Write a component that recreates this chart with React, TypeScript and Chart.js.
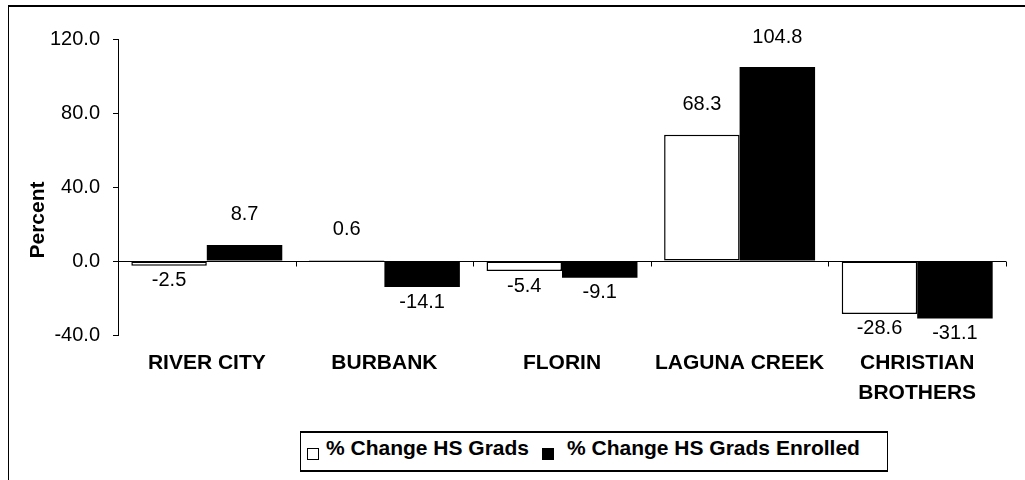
import React, { useEffect, useRef } from "react";
import { Chart, registerables } from "chart.js";

Chart.register(...registerables);

// ---- data ----
const categories: string[][] = [
  ["RIVER CITY"],
  ["BURBANK"],
  ["FLORIN"],
  ["LAGUNA CREEK"],
  ["CHRISTIAN", "BROTHERS"],
];
const hsGrads = [-2.5, 0.6, -5.4, 68.3, -28.6];
const hsGradsEnrolled = [8.7, -14.1, -9.1, 104.8, -31.1];
const seriesNames = ["% Change HS Grads", "% Change HS Grads Enrolled"];
const yMin = -40;
const yMax = 120;
const yStep = 40;
const yTitle = "Percent";

const FONT = "'Liberation Sans', Arial, sans-serif";

const decorations = {
  id: "decorations",
  beforeDatasetsDraw(chart: any) {
    const { ctx, chartArea, scales } = chart;
    const y = scales.y;
    const y0 = Math.round(y.getPixelForValue(0)) + 0.5;
    ctx.save();
    ctx.strokeStyle = "#000";
    ctx.lineWidth = 1;
    ctx.beginPath();
    ctx.moveTo(chartArea.left, y0);
    ctx.lineTo(chartArea.right, y0);
    const n = categories.length;
    const w = (chartArea.right - chartArea.left) / n;
    for (let i = 1; i <= n; i++) {
      const bx = Math.round(chartArea.left + i * w) + 0.5;
      ctx.moveTo(bx, y0);
      ctx.lineTo(bx, y0 + 5);
    }
    ctx.stroke();
    ctx.restore();
  },
  afterDatasetsDraw(chart: any) {
    const { ctx } = chart;
    ctx.save();
    ctx.fillStyle = "#000";
    ctx.font = `20px ${FONT}`;
    ctx.textAlign = "center";
    ctx.textBaseline = "middle";
    chart.data.datasets.forEach((ds: any, di: number) => {
      const meta = chart.getDatasetMeta(di);
      meta.data.forEach((bar: any, i: number) => {
        const v = ds.data[i] as number;
        const ty = v >= 0 ? bar.y - 30 : bar.y + 15;
        ctx.fillText(v.toFixed(1), bar.x, ty);
      });
    });
    // axis title
    ctx.font = `bold 21px ${FONT}`;
    ctx.translate(38, 220);
    ctx.rotate(-Math.PI / 2);
    ctx.fillText(yTitle, 0, 0);
    ctx.restore();
  },
};

export default function App() {
  const ref = useRef<HTMLCanvasElement | null>(null);

  useEffect(() => {
    if (!ref.current) return;
    const chart = new Chart(ref.current, {
      type: "bar",
      data: {
        labels: categories,
        datasets: [
          {
            label: seriesNames[0],
            data: hsGrads,
            backgroundColor: "#ffffff",
            borderColor: "#000000",
            borderWidth: 1.5,
            borderSkipped: false,
          },
          {
            label: seriesNames[1],
            data: hsGradsEnrolled,
            backgroundColor: "#000000",
            borderColor: "#000000",
            borderWidth: 0,
          },
        ],
      },
      options: {
        animation: false,
        responsive: true,
        maintainAspectRatio: false,
        layout: { padding: { left: 0, right: 19, top: 39, bottom: 0 } },
        plugins: {
          legend: { display: false },
          tooltip: { enabled: false },
          title: { display: false },
        },
        datasets: {
          bar: { categoryPercentage: 0.85, barPercentage: 1 },
        },
        scales: {
          x: {
            grid: { display: false, drawTicks: false },
            border: { display: false },
            ticks: {
              color: "#000",
              font: { family: FONT, size: 21, weight: "bold", lineHeight: 1.45 },
              padding: 13,
              maxRotation: 0,
              autoSkip: false,
            },
            afterFit(scale: any) {
              scale.height = 145;
            },
          },
          y: {
            min: yMin,
            max: yMax,
            ticks: {
              stepSize: yStep,
              color: "#000",
              font: { family: FONT, size: 20 },
              padding: 13,
              callback: (v: any) => Number(v).toFixed(1),
            },
            grid: {
              drawOnChartArea: false,
              drawTicks: true,
              tickLength: 5,
              color: "#000",
            },
            border: { display: true, color: "#000", width: 1 },
            afterFit(scale: any) {
              scale.width = 118;
            },
          },
        },
      },
      plugins: [decorations],
    });
    return () => chart.destroy();
  }, []);

  const sq = (left: number, fill: string): React.CSSProperties => ({
    position: "absolute",
    left,
    top: 15,
    width: 12,
    height: 12,
    boxSizing: "border-box",
    background: fill,
    border: "1px solid #000",
  });
  const txt = (left: number): React.CSSProperties => ({
    position: "absolute",
    left,
    top: 3,
    font: `bold 21px ${FONT}`,
    color: "#000",
    whiteSpace: "nowrap",
    lineHeight: "24px",
  });

  return (
    <div
      style={{
        position: "fixed",
        left: 0,
        top: 0,
        width: 1025,
        height: 480,
        background: "#fff",
        overflow: "hidden",
      }}
    >
      <canvas ref={ref} style={{ position: "absolute", left: 0, top: 0 }} />
      <div
        style={{
          position: "absolute",
          left: 8,
          top: 5,
          right: 0,
          bottom: 0,
          borderLeft: "1px solid #000",
          borderTop: "2px solid #000",
          pointerEvents: "none",
        }}
      />
      <div
        style={{
          position: "absolute",
          left: 300,
          top: 431,
          width: 588,
          height: 41,
          boxSizing: "border-box",
          border: "1px solid #000",
          borderTopWidth: 2,
          borderBottomWidth: 2,
          background: "#fff",
        }}
      >
        <div style={sq(6, "#fff")} />
        <div style={txt(25)}>{seriesNames[0]}</div>
        <div style={sq(241, "#000")} />
        <div style={txt(266)}>{seriesNames[1]}</div>
      </div>
    </div>
  );
}
